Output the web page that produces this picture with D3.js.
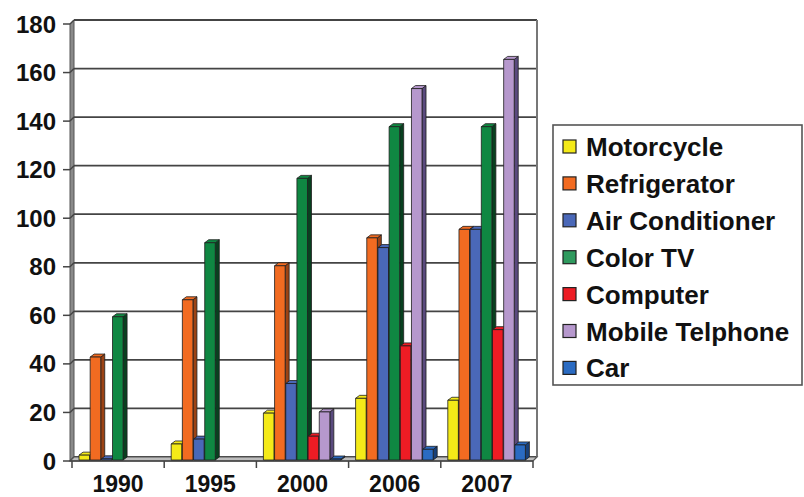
<!DOCTYPE html>
<html>
<head>
<meta charset="utf-8">
<script src="https://cdn.jsdelivr.net/npm/d3@7/dist/d3.min.js"></script>
<style>
  html, body { margin: 0; padding: 0; background: #fff; }
  svg { display: block; font-family: "Liberation Sans", Arial, sans-serif; }
</style>
</head>
<body>
<svg id="chart" width="804" height="497"></svg>
<script>
// Household ownership of durable goods, by survey year
const years = ["1990", "1995", "2000", "2006", "2007"];
const seriesNames = ["Motorcycle", "Refrigerator", "Air Conditioner", "Color TV", "Computer", "Mobile Telphone", "Car"];
const motorcycle     = [2, 6.6, 19.3, 25.4, 24.6];
const refrigerator   = [42.4, 66, 80, 91.5, 95];
const airConditioner = [0.5, 8.6, 31.5, 87.5, 95];
const colorTV        = [59, 89.5, 116, 137.3, 137.3];
const computer       = [0, 0, 9.8, 47, 53.7];
const mobilePhone    = [0, 0, 19.8, 153, 165];
const car            = [0, 0, 0.4, 4.4, 6.2];
const yTicks = [0, 20, 40, 60, 80, 100, 120, 140, 160, 180];

const seriesValues = [motorcycle, refrigerator, airConditioner, colorTV, computer, mobilePhone, car];
const frontColors = ["#f4ea18", "#f26b21", "#4a68b8", "#0f8742", "#ed1c24", "#b698cd", "#2a6bc2"];
const sideColors  = ["#a8a010", "#9c4314", "#2c3f73", "#08401f", "#8e1015", "#5a4a7e", "#17407a"];
const legendColors = ["#f4ea18", "#f26b21", "#4a68b8", "#2f9a5e", "#ed1c24", "#b698cd", "#2a6bc2"];

const svg = d3.select("#chart");

// 3-D offsets: back wall is shifted right/up from the front plane
const DX = 4, DY = 4;      // wall depth
const BDX = 4, BDY = 3;    // bar depth

const y = d3.scaleLinear().domain([0, 180]).range([457, 20]);   // back wall
const yFront = v => y(v) + DY;                                   // front plane
const yBar = v => y(v) + 3;                                      // bar front plane

const x0 = d3.scaleBand().domain(years).range([72, 533]).padding(0);
const x1 = d3.scaleBand().domain(seriesNames).range([7, x0.bandwidth() - 7]).padding(0);
const barW = x1.bandwidth() - 0.6;

const leftFront = 70, leftBack = leftFront + DX;
const rightBack = 537;

// Left wall
svg.append("polygon")
  .attr("points", [[leftFront, yFront(180)], [leftBack, y(180)], [leftBack, y(0)], [leftFront, yFront(0)]].join(" "))
  .attr("fill", "#8a8a8a").attr("stroke", "#555").attr("stroke-width", 1);

// Gridlines on back wall + diagonal on left wall
const grid = svg.append("g");
yTicks.forEach(t => {
  grid.append("line")
    .attr("x1", leftBack).attr("x2", rightBack)
    .attr("y1", y(t)).attr("y2", y(t))
    .attr("stroke", "#444").attr("stroke-width", 1.8);
  grid.append("line")
    .attr("x1", leftFront).attr("x2", leftBack)
    .attr("y1", yFront(t)).attr("y2", y(t))
    .attr("stroke", "#444").attr("stroke-width", 1.4);
});

// Right wall edge
svg.append("line")
  .attr("x1", rightBack).attr("x2", rightBack)
  .attr("y1", y(180)).attr("y2", y(0))
  .attr("stroke", "#777").attr("stroke-width", 2);

// Floor
svg.append("polygon")
  .attr("points", [[leftFront, yFront(0)], [leftBack, y(0)], [rightBack, y(0)], [533, yFront(0)]].join(" "))
  .attr("fill", "#bdbdbd").attr("stroke", "#555").attr("stroke-width", 1.2);

// Y axis ticks and labels (front plane)
const yAxis = svg.append("g");
yTicks.forEach(t => {
  yAxis.append("line")
    .attr("x1", 63).attr("x2", leftFront)
    .attr("y1", yFront(t)).attr("y2", yFront(t))
    .attr("stroke", "#444").attr("stroke-width", 1.5);
  yAxis.append("text")
    .attr("x", 56).attr("y", yFront(t))
    .attr("text-anchor", "end").attr("dominant-baseline", "central")
    .attr("font-size", 24).attr("font-weight", "bold").attr("fill", "#111")
    .text(t);
});

// X axis: front edge, category separators and labels
const xAxis = svg.append("g");
xAxis.append("line")
  .attr("x1", leftFront).attr("x2", 533)
  .attr("y1", yFront(0)).attr("y2", yFront(0))
  .attr("stroke", "#444").attr("stroke-width", 1.6);
const bounds = years.map(d => x0(d)).concat([x0(years[years.length - 1]) + x0.bandwidth()]);
bounds.forEach(bx => {
  xAxis.append("line")
    .attr("x1", bx).attr("x2", bx)
    .attr("y1", yFront(0)).attr("y2", yFront(0) + 7)
    .attr("stroke", "#444").attr("stroke-width", 1.5);
});
years.forEach(d => {
  xAxis.append("text")
    .attr("x", x0(d) + x0.bandwidth() / 2).attr("y", 483.5)
    .attr("text-anchor", "middle").attr("dominant-baseline", "central")
    .attr("font-size", 23).attr("font-weight", "bold").attr("fill", "#111")
    .text(d);
});

// Bars: front, top and right-side faces, drawn left to right
const bars = svg.append("g");
years.forEach((yr, i) => {
  seriesNames.forEach((s, j) => {
    const v = seriesValues[j][i];
    if (!v) return;
    const bx = x0(yr) + x1(s);
    const yt = yBar(v), yb = yBar(0);
    const g = bars.append("g").attr("stroke", "#1e1e1e").attr("stroke-width", 0.8).attr("stroke-linejoin", "round");
    g.append("polygon")
      .attr("points", [[bx + barW, yt], [bx + barW + BDX, yt - BDY], [bx + barW + BDX, yb - BDY], [bx + barW, yb]].join(" "))
      .attr("fill", sideColors[j]);
    g.append("polygon")
      .attr("points", [[bx, yt], [bx + BDX, yt - BDY], [bx + barW + BDX, yt - BDY], [bx + barW, yt]].join(" "))
      .attr("fill", frontColors[j]);
    g.append("rect")
      .attr("x", bx).attr("y", yt)
      .attr("width", barW).attr("height", Math.max(0, yb - yt))
      .attr("fill", frontColors[j]);
  });
});

// Legend
const legend = svg.append("g");
legend.append("rect")
  .attr("x", 553).attr("y", 125).attr("width", 249).attr("height", 260)
  .attr("fill", "#fff").attr("stroke", "#555").attr("stroke-width", 1.6);
seriesNames.forEach((s, j) => {
  const cy = 147 + j * 36.9;
  legend.append("rect")
    .attr("x", 563).attr("y", cy - 7).attr("width", 13).attr("height", 13)
    .attr("fill", legendColors[j]).attr("stroke", "#222").attr("stroke-width", 1.2);
  legend.append("text")
    .attr("x", 586).attr("y", cy)
    .attr("dominant-baseline", "central")
    .attr("font-size", 26).attr("font-weight", "bold").attr("fill", "#111")
    .text(s);
});
</script>
</body>
</html>
